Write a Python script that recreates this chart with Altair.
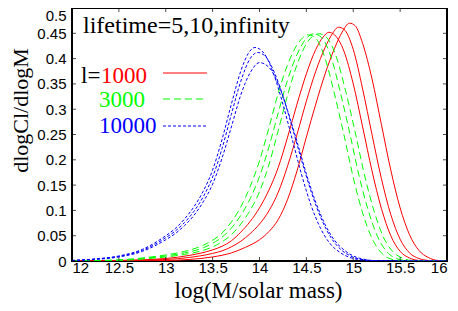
import altair as alt
import pandas as pd

X_TICKS = [12, 12.5, 13, 13.5, 14, 14.5, 15, 15.5, 16]
Y_TICKS = [0, 0.05, 0.1, 0.15, 0.2, 0.25, 0.3, 0.35, 0.4, 0.45, 0.5]

# l=1000 (red, solid), lifetimes 5, 10, infinity
R1 = [(12.0, 0), (12.5, 0.001), (13.0, 0.005), (13.25, 0.011), (13.5, 0.022), (13.6, 0.029),
      (13.7, 0.04), (13.8, 0.057), (13.9, 0.078), (14.0, 0.105), (14.1, 0.14), (14.2, 0.185),
      (14.3, 0.245), (14.4, 0.31), (14.5, 0.37), (14.6, 0.418), (14.68, 0.443), (14.74, 0.452),
      (14.8, 0.447), (14.9, 0.415), (15.0, 0.35), (15.1, 0.265), (15.2, 0.178), (15.3, 0.104),
      (15.4, 0.05), (15.5, 0.019), (15.6, 0.006), (15.7, 0.001), (15.8, 0), (16.0, 0)]
R2 = [(12.0, 0), (12.5, 0.001), (13.0, 0.003), (13.25, 0.007), (13.5, 0.015), (13.6, 0.02),
      (13.7, 0.028), (13.8, 0.039), (13.9, 0.054), (14.0, 0.073), (14.1, 0.099), (14.2, 0.136),
      (14.3, 0.188), (14.4, 0.25), (14.5, 0.316), (14.6, 0.375), (14.7, 0.422), (14.78, 0.45),
      (14.84, 0.462), (14.9, 0.458), (15.0, 0.418), (15.1, 0.34), (15.2, 0.25), (15.3, 0.163),
      (15.4, 0.092), (15.5, 0.043), (15.6, 0.016), (15.7, 0.005), (15.8, 0.001), (15.9, 0),
      (16.0, 0)]
R3 = [(12.0, 0), (12.5, 0), (13.0, 0.001), (13.25, 0.003), (13.5, 0.008), (13.7, 0.016),
      (13.85, 0.027), (14.0, 0.042), (14.1, 0.058), (14.2, 0.082), (14.3, 0.122), (14.4, 0.178),
      (14.5, 0.245), (14.6, 0.31), (14.7, 0.37), (14.8, 0.42), (14.88, 0.452), (14.96, 0.47),
      (15.02, 0.465), (15.1, 0.43), (15.2, 0.36), (15.3, 0.27), (15.4, 0.18), (15.5, 0.105),
      (15.6, 0.052), (15.7, 0.021), (15.8, 0.007), (15.9, 0.001), (16.0, 0)]

# l=3000 (green, dashed)
G1 = [(12.0, 0), (12.5, 0.002), (12.75, 0.006), (13.0, 0.012), (13.2, 0.019), (13.4, 0.031),
      (13.5, 0.041), (13.6, 0.055), (13.7, 0.077), (13.8, 0.107), (13.9, 0.147), (14.0, 0.198),
      (14.1, 0.263), (14.2, 0.332), (14.3, 0.388), (14.4, 0.427), (14.46, 0.441), (14.52, 0.447),
      (14.6, 0.44), (14.7, 0.4), (14.8, 0.33), (14.9, 0.25), (15.0, 0.165), (15.1, 0.095),
      (15.2, 0.045), (15.3, 0.016), (15.4, 0.004), (15.5, 0.001), (15.6, 0), (16.0, 0)]
G2 = [(12.0, 0), (12.5, 0.002), (12.75, 0.005), (13.0, 0.01), (13.2, 0.016), (13.4, 0.026),
      (13.5, 0.035), (13.6, 0.047), (13.7, 0.065), (13.8, 0.09), (13.9, 0.123), (14.0, 0.167),
      (14.1, 0.225), (14.2, 0.293), (14.3, 0.358), (14.4, 0.408), (14.5, 0.44), (14.58, 0.449),
      (14.66, 0.442), (14.76, 0.405), (14.86, 0.335), (14.96, 0.255), (15.06, 0.17),
      (15.16, 0.1), (15.26, 0.048), (15.36, 0.018), (15.46, 0.005), (15.56, 0.001), (15.66, 0),
      (16.0, 0)]
G3 = [(12.0, 0), (12.5, 0.001), (12.75, 0.004), (13.0, 0.008), (13.2, 0.013), (13.4, 0.021),
      (13.5, 0.028), (13.6, 0.038), (13.7, 0.052), (13.8, 0.073), (13.9, 0.1), (14.0, 0.137),
      (14.1, 0.19), (14.2, 0.258), (14.3, 0.328), (14.4, 0.388), (14.5, 0.429), (14.58, 0.446),
      (14.64, 0.449), (14.72, 0.441), (14.82, 0.403), (14.92, 0.335), (15.02, 0.255),
      (15.12, 0.17), (15.22, 0.1), (15.32, 0.048), (15.42, 0.019), (15.52, 0.006),
      (15.62, 0.001), (15.72, 0), (16.0, 0)]

# l=10000 (blue, dotted)
B1 = [(12.0, 0.001), (12.25, 0.004), (12.5, 0.01), (12.75, 0.023), (13.0, 0.05), (13.1, 0.064),
      (13.2, 0.083), (13.3, 0.107), (13.4, 0.138), (13.5, 0.18), (13.6, 0.24), (13.7, 0.31),
      (13.8, 0.375), (13.88, 0.41), (13.95, 0.422), (14.05, 0.41), (14.15, 0.37), (14.25, 0.31),
      (14.35, 0.24), (14.45, 0.17), (14.55, 0.11), (14.65, 0.065), (14.75, 0.035),
      (14.85, 0.018), (14.95, 0.008), (15.05, 0.003), (15.15, 0.001), (15.3, 0), (16.0, 0)]
B2 = [(12.0, 0.001), (12.25, 0.004), (12.5, 0.009), (12.75, 0.021), (13.0, 0.046), (13.1, 0.059),
      (13.2, 0.076), (13.3, 0.098), (13.4, 0.127), (13.5, 0.166), (13.6, 0.222), (13.7, 0.29),
      (13.8, 0.355), (13.9, 0.4), (13.98, 0.412), (14.06, 0.405), (14.16, 0.372), (14.26, 0.32),
      (14.36, 0.257), (14.46, 0.192), (14.56, 0.132), (14.66, 0.083), (14.76, 0.047),
      (14.86, 0.024), (14.96, 0.011), (15.06, 0.004), (15.2, 0.001), (15.3, 0), (16.0, 0)]
B3 = [(12.0, 0.001), (12.25, 0.003), (12.5, 0.008), (12.75, 0.019), (13.0, 0.042), (13.1, 0.054),
      (13.2, 0.07), (13.3, 0.09), (13.4, 0.117), (13.5, 0.152), (13.6, 0.203), (13.7, 0.265),
      (13.8, 0.328), (13.9, 0.372), (14.0, 0.392), (14.1, 0.383), (14.2, 0.35), (14.3, 0.297),
      (14.4, 0.236), (14.5, 0.172), (14.6, 0.116), (14.7, 0.072), (14.8, 0.041), (14.9, 0.022),
      (15.0, 0.01), (15.1, 0.004), (15.2, 0.001), (15.35, 0), (16.0, 0)]

W, H = 375, 253
SERIF = "Liberation Serif"
SANS = "Liberation Sans"
RED, GREEN, BLUE = "#ff0000", "#00ff00", "#0000ff"


def frame(curves):
    rows = []
    for name, pts in curves.items():
        for x, y in pts:
            rows.append({"curve": name, "x": x, "y": y})
    return pd.DataFrame(rows)


xscale = alt.Scale(domain=[12, 16], nice=False, zero=False)
yscale = alt.Scale(domain=[0, 0.5], nice=False)

xaxis = alt.Axis(values=X_TICKS, format="~g", title="log(M/solar mass)", ticks=False, tickSize=0,
                 domain=False, grid=False, labelFont=SANS, labelFontSize=15, labelPadding=-1,
                 labelColor="black", titleFont=SERIF, titleFontSize=23, titleFontWeight="normal",
                 titleColor="black", titleX=186, titleY=29, titleBaseline="middle",
                 titleAlign="center")
yaxis = alt.Axis(values=Y_TICKS, format="~g", title="dlogCl/dlogM", ticks=False, tickSize=0,
                 domain=False, grid=False, labelFont=SANS, labelFontSize=15, labelPadding=6,
                 labelColor="black", titleFont=SERIF, titleFontSize=22, titleFontWeight="normal",
                 titleColor="black", titleX=-52, titleY=102, titleAngle=-90,
                 titleBaseline="middle", titleAlign="center",
                 labelOffset={"condition": {"test": "datum.value == 0.5", "value": 7}, "value": 0})

X = alt.X("x:Q", scale=xscale, axis=xaxis)
Y = alt.Y("y:Q", scale=yscale, axis=yaxis)


def family(curves, color, dash):
    mk = {"color": color, "strokeWidth": 1, "interpolate": "monotone", "clip": True}
    if dash:
        mk["strokeDash"] = dash
    return alt.Chart(frame(curves)).mark_line(**mk).encode(x=X, y=Y, detail="curve:N")


reds = family({"R1": R1, "R2": R2, "R3": R3}, RED, None)
greens = family({"G1": G1, "G2": G2, "G3": G3}, GREEN, [7, 4])
blues = family({"B1": B1, "B2": B2, "B3": B3}, BLUE, [3, 2])

xt = pd.DataFrame({"x": X_TICKS})
yt = pd.DataFrame({"y": Y_TICKS})
tick_bottom = alt.Chart(xt).mark_tick(color="black", size=4, thickness=1, orient="vertical").encode(
    x=X, y=alt.value(H - 2))
tick_top = alt.Chart(xt).mark_tick(color="black", size=4, thickness=1, orient="vertical").encode(
    x=X, y=alt.value(2))
tick_left = alt.Chart(yt).mark_tick(color="black", size=4, thickness=1, orient="horizontal").encode(
    y=Y, x=alt.value(2))
tick_right = alt.Chart(yt).mark_tick(color="black", size=4, thickness=1, orient="horizontal").encode(
    y=Y, x=alt.value(W - 2))

one = pd.DataFrame({"k": [0]})


def label(text, x, y, color="black", size=23):
    return alt.Chart(one).mark_text(text=text, font=SERIF, fontSize=size, color=color,
                                    align="left", baseline="middle").encode(
        x=alt.value(x), y=alt.value(y))


def key(color, dash, y):
    mk = {"color": color, "strokeWidth": 1}
    if dash:
        mk["strokeDash"] = dash
    return alt.Chart(one).mark_rule(**mk).encode(x=alt.value(91), x2=alt.value(135), y=alt.value(y))


texts = [
    label("lifetime=5,10,infinity", 11, 18, size=24),
    label("l=", 9, 68),
    label("1000", 29, 68, color=RED),
    label("3000", 27, 92, color=GREEN),
    label("10000", 27, 118, color=BLUE),
]
keys = [key(RED, None, 65), key(GREEN, [7, 4], 91), key(BLUE, [3, 2], 118)]

chart = alt.layer(reds, greens, blues, tick_bottom, tick_top, tick_left, tick_right,
                  *texts, *keys).properties(
    width=W, height=H,
    autosize=alt.AutoSizeParams(type="none"),
    padding={"left": 64, "top": 0, "right": 3, "bottom": 42},
    background="white",
).configure_view(stroke="black", strokeWidth=2)

chart.save("out.html", embed_options={"renderer": "svg", "actions": False})
